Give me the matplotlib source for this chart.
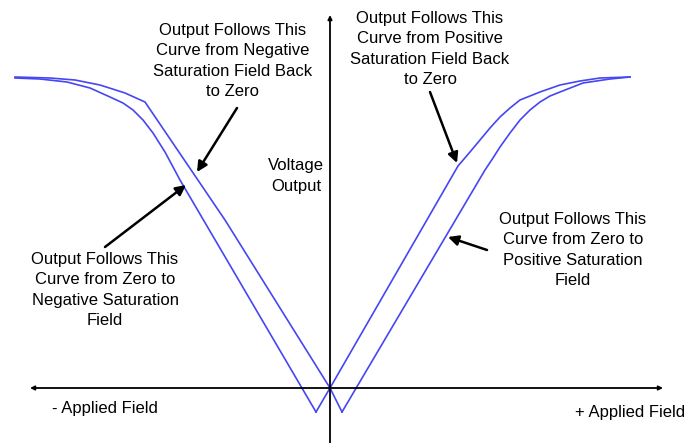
import numpy as np
import matplotlib
matplotlib.use("Agg")
import matplotlib.pyplot as plt

plt.rcParams['font.family'] = ['Liberation Sans', 'DejaVu Sans']

# curve points (x = applied field, y = voltage output)
# left V: vertex left of zero, right arm runs through origin
outer_left_x = [-315, -290, -263, -240, -220, -207, -197, -187, -177, -165, -150, -14]
outer_left_y = [310, 309, 306, 300, 291, 285, 278, 268, 255, 236, 208, -24]
inner_right_x = [-14, 0, 128, 140, 150, 160, 170, 180, 190, 210, 230, 250, 270, 300]
inner_right_y = [-24, 0, 222, 236, 248, 260, 271, 280, 288, 296, 303, 307, 310, 311]

# right V: vertex right of zero, left arm runs through origin
inner_left_x = [-315, -280, -255, -230, -205, -185, -105, 0, 12]
inner_left_y = [311, 310, 308, 303, 295, 286, 168, 0, -24]
outer_right_x = [12, 155, 163, 170, 180, 190, 200, 210, 220, 230, 253, 280, 300]
outer_right_y = [-24, 218, 230, 241, 255, 268, 278, 286, 292, 296, 305, 309, 311]

labels = {
    'neg_back': "Output Follows This\nCurve from Negative\nSaturation Field Back\nto Zero",
    'pos_back': "Output Follows This\nCurve from Positive\nSaturation Field Back\nto Zero",
    'neg_out': "Output Follows This\nCurve from Zero to\nNegative Saturation\nField",
    'pos_out': "Output Follows This\nCurve from Zero to\nPositive Saturation\nField",
}

fig = plt.figure(figsize=(6.87, 4.43), dpi=100)
ax = fig.add_axes([0, 0, 1, 1])
ax.set_xlim(-330, 357)
ax.set_ylim(-55, 388)
ax.axis('off')

blue = '#4646f2'
for xs, ys in [(outer_left_x, outer_left_y), (inner_right_x, inner_right_y),
               (inner_left_x, inner_left_y), (outer_right_x, outer_right_y)]:
    ax.plot(xs, ys, color=blue, lw=1.2, solid_joinstyle='round')

# axes with arrows
ax.annotate('', xy=(333, 0), xytext=(-300, 0),
            arrowprops=dict(arrowstyle='<|-|>', color='black', lw=1.3,
                            mutation_scale=6, shrinkA=0, shrinkB=0))
ax.annotate('', xy=(0, 373), xytext=(0, -56),
            arrowprops=dict(arrowstyle='-|>', color='black', lw=1.3,
                            mutation_scale=6, shrinkA=0, shrinkB=0))

fs = 12
ls = 1.42
ax.text(-97, 327, labels['neg_back'], ha='center', va='center', fontsize=fs, linespacing=ls)
ax.text(100, 339, labels['pos_back'], ha='center', va='center', fontsize=fs, linespacing=ls)
ax.text(-225, 98, labels['neg_out'], ha='center', va='center', fontsize=fs, linespacing=ls)
ax.text(243, 138, labels['pos_out'], ha='center', va='center', fontsize=fs, linespacing=ls)
ax.text(-34, 212, "Voltage\nOutput", ha='center', va='center', fontsize=fs, linespacing=ls)
ax.text(-278, -20, "- Applied Field", ha='left', va='center', fontsize=fs)
ax.text(355, -25, "+ Applied Field", ha='right', va='center', fontsize=fs)

arrow_kw = dict(arrowstyle='-|>', color='black', lw=1.8, mutation_scale=15,
                shrinkA=0, shrinkB=0)
ax.annotate('', xy=(-133, 216), xytext=(-93, 280), arrowprops=arrow_kw)
ax.annotate('', xy=(-144, 203), xytext=(-225, 141), arrowprops=arrow_kw)
ax.annotate('', xy=(127, 225), xytext=(100, 296), arrowprops=arrow_kw)
ax.annotate('', xy=(118, 151), xytext=(157, 138), arrowprops=arrow_kw)

fig.savefig('out.png', dpi=100, facecolor='white')
